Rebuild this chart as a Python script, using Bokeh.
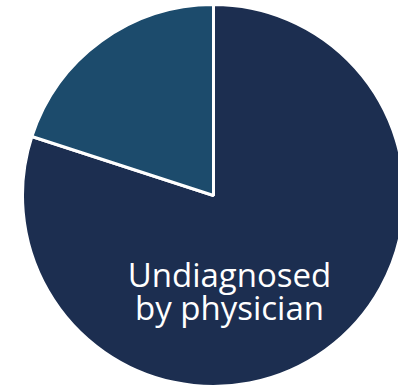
import math
from bokeh.plotting import figure
from bokeh.models import Range1d, ColumnDataSource
from bokeh.core.properties import value
from bokeh.embed import file_html
from bokeh.resources import INLINE

# Data
categories = ["Undiagnosed by physician", "Diagnosed by physician"]
shares = [80, 20]
colors = ["#1C2E50", "#1C4B6C"]
label_lines = ["Undiagnosed", "by physician"]

W, H = 398, 391
cx, cy, r = 213, 196, 191

total = sum(shares)
starts, ends = [], []
a = math.pi / 2
for v in shares:
    starts.append(a)
    a = a - v / total * 2 * math.pi
    ends.append(a)

src = ColumnDataSource(dict(cat=categories, val=shares, start=starts, end=ends,
                            color=colors, x=[cx] * 2, y=[cy] * 2))

p = figure(width=W, height=H, output_backend="svg", toolbar_location=None,
           x_range=Range1d(0, W), y_range=Range1d(0, H), min_border=0)
p.axis.visible = False
p.grid.visible = False
p.outline_line_color = None
p.background_fill_color = "white"

p.wedge(x="x", y="y", radius=r, start_angle="start", end_angle="end",
        direction="clock", fill_color="color", line_color="white", line_width=3,
        source=src)

p.text(x=[229, 229], y=[H - 274, H - 307], text=label_lines, text_align="center",
       text_baseline="alphabetic", text_color="white", text_font=value("Open Sans"),
       text_font_size="33px")

open("out.html", "w").write(file_html(p, INLINE))
